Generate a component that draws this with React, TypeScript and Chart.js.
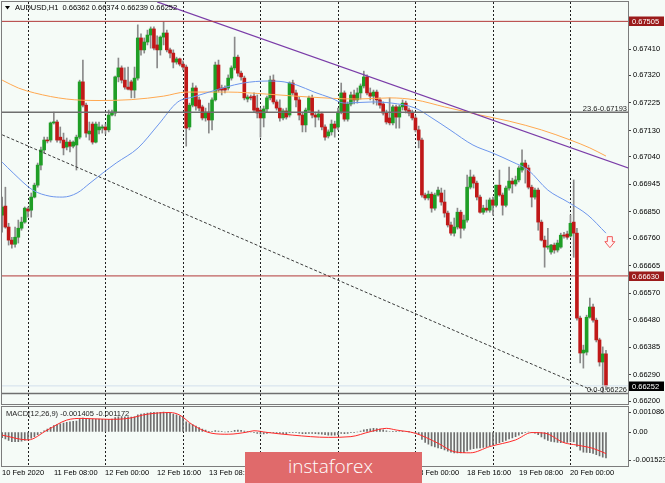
import React, { useEffect, useRef } from "react";
import { Chart, registerables } from "chart.js";

Chart.register(...registerables);

const SYMBOL = "AUDUSD";
const TIMEFRAME = "H1";

const OPEN = [0.66839,0.66870,0.66798,0.66753,0.66739,0.66763,0.66794,0.66815,0.66860,0.66856,
0.66901,0.66942,0.67011,0.67063,0.67097,0.67097,0.67156,0.67159,0.67107,0.67097,
0.67073,0.67090,0.67076,0.67080,0.67107,0.67297,0.67217,0.67118,0.67152,0.67090,
0.67132,0.67138,0.67142,0.67132,0.67183,0.67190,0.67314,0.67345,0.67303,0.67279,
0.67297,0.67269,0.67310,0.67448,0.67407,0.67434,0.67458,0.67479,0.67424,0.67407,
0.67451,0.67465,0.67407,0.67396,0.67365,0.67376,0.67358,0.67348,0.67142,0.67217,
0.67276,0.67235,0.67211,0.67173,0.67193,0.67166,0.67235,0.67355,0.67276,0.67276,
0.67276,0.67310,0.67345,0.67382,0.67327,0.67310,0.67238,0.67245,0.67248,0.67207,
0.67200,0.67173,0.67204,0.67242,0.67303,0.67228,0.67207,0.67173,0.67197,0.67183,
0.67293,0.67259,0.67235,0.67183,0.67149,0.67200,0.67242,0.67183,0.67176,0.67187,
0.67142,0.67111,0.67125,0.67152,0.67142,0.67193,0.67259,0.67169,0.67221,0.67252,
0.67235,0.67259,0.67283,0.67314,0.67259,0.67248,0.67262,0.67235,0.67221,0.67190,
0.67173,0.67156,0.67211,0.67176,0.67211,0.67224,0.67200,0.67190,0.67173,0.67132,
0.67097,0.66908,0.66898,0.66911,0.66863,0.66908,0.66915,0.66884,0.66846,0.66805,
0.66777,0.66798,0.66849,0.66794,0.66822,0.66935,0.66970,0.66949,0.66901,0.66849,
0.66863,0.66856,0.66891,0.66873,0.66942,0.66908,0.66873,0.66932,0.66956,0.66946,
0.66960,0.66994,0.67018,0.67001,0.66935,0.66901,0.66925,0.66815,0.66753,0.66729,
0.66712,0.66736,0.66719,0.66729,0.66770,0.66774,0.66767,0.66815,0.66777,0.66485,
0.66365,0.66368,0.66488,0.66523,0.66478,0.66410,0.66334,0.66362];

const HIGH = [0.66901,0.66935,0.66811,0.66763,0.66798,0.66822,0.66832,0.66867,0.66867,0.66915,
0.66949,0.67018,0.67073,0.67107,0.67107,0.67159,0.67193,0.67166,0.67142,0.67121,
0.67104,0.67097,0.67094,0.67114,0.67303,0.67372,0.67224,0.67159,0.67159,0.67159,
0.67159,0.67149,0.67152,0.67200,0.67200,0.67317,0.67379,0.67352,0.67345,0.67348,
0.67303,0.67348,0.67493,0.67462,0.67448,0.67475,0.67486,0.67486,0.67455,0.67455,
0.67503,0.67475,0.67413,0.67407,0.67382,0.67379,0.67369,0.67355,0.67224,0.67293,
0.67283,0.67245,0.67217,0.67207,0.67224,0.67242,0.67365,0.67372,0.67286,0.67283,
0.67321,0.67352,0.67451,0.67389,0.67334,0.67317,0.67252,0.67252,0.67259,0.67252,
0.67207,0.67214,0.67248,0.67317,0.67321,0.67235,0.67235,0.67204,0.67207,0.67297,
0.67303,0.67269,0.67245,0.67193,0.67207,0.67248,0.67252,0.67193,0.67200,0.67193,
0.67149,0.67132,0.67166,0.67162,0.67207,0.67293,0.67266,0.67228,0.67262,0.67269,
0.67276,0.67290,0.67334,0.67321,0.67276,0.67269,0.67269,0.67242,0.67228,0.67200,
0.67242,0.67217,0.67217,0.67217,0.67235,0.67231,0.67207,0.67200,0.67180,0.67145,
0.67104,0.66915,0.66922,0.66918,0.66915,0.66935,0.66932,0.66925,0.66853,0.66815,
0.66829,0.66863,0.66856,0.66839,0.66977,0.66994,0.66977,0.66956,0.66908,0.66873,
0.66891,0.66898,0.66901,0.66942,0.66994,0.66915,0.66939,0.67004,0.66966,0.66973,
0.67008,0.67063,0.67028,0.67011,0.66942,0.66932,0.66932,0.66822,0.66767,0.66794,
0.66739,0.66743,0.66753,0.66777,0.66780,0.66784,0.66839,0.66960,0.66794,0.66492,
0.66392,0.66495,0.66554,0.66533,0.66485,0.66416,0.66386,0.66374];

const LOW = [0.66780,0.66794,0.66736,0.66725,0.66729,0.66743,0.66787,0.66811,0.66832,0.66832,
0.66898,0.66935,0.66994,0.67052,0.67087,0.67090,0.67152,0.67090,0.67087,0.67046,
0.67063,0.67056,0.67070,0.66994,0.67101,0.67211,0.67107,0.67097,0.67083,0.67087,
0.67118,0.67121,0.67118,0.67125,0.67180,0.67180,0.67297,0.67293,0.67272,0.67269,
0.67242,0.67242,0.67303,0.67389,0.67396,0.67424,0.67413,0.67407,0.67345,0.67389,
0.67424,0.67400,0.67379,0.67345,0.67358,0.67352,0.67338,0.67076,0.67132,0.67211,
0.67200,0.67197,0.67166,0.67162,0.67121,0.67132,0.67231,0.67262,0.67252,0.67259,
0.67269,0.67303,0.67338,0.67317,0.67303,0.67235,0.67228,0.67235,0.67193,0.67173,
0.67107,0.67142,0.67193,0.67235,0.67221,0.67200,0.67162,0.67166,0.67169,0.67176,
0.67252,0.67211,0.67166,0.67125,0.67125,0.67193,0.67173,0.67142,0.67166,0.67132,
0.67097,0.67104,0.67114,0.67107,0.67132,0.67187,0.67162,0.67162,0.67214,0.67221,
0.67224,0.67238,0.67276,0.67252,0.67235,0.67221,0.67217,0.67207,0.67183,0.67152,
0.67149,0.67149,0.67138,0.67138,0.67200,0.67190,0.67180,0.67166,0.67125,0.67070,
0.66901,0.66891,0.66891,0.66849,0.66856,0.66904,0.66873,0.66832,0.66798,0.66770,
0.66767,0.66791,0.66760,0.66787,0.66815,0.66929,0.66932,0.66891,0.66846,0.66842,
0.66849,0.66849,0.66839,0.66867,0.66904,0.66839,0.66867,0.66925,0.66915,0.66939,
0.66953,0.66987,0.66949,0.66929,0.66867,0.66894,0.66787,0.66750,0.66660,0.66722,
0.66705,0.66708,0.66712,0.66725,0.66760,0.66756,0.66763,0.66694,0.66478,0.66331,
0.66313,0.66358,0.66485,0.66471,0.66403,0.66320,0.66226,0.66239];

const CLOSE = [0.66867,0.66798,0.66753,0.66739,0.66763,0.66794,0.66815,0.66863,0.66853,0.66901,
0.66942,0.67011,0.67063,0.67097,0.67094,0.67156,0.67159,0.67097,0.67097,0.67070,
0.67090,0.67076,0.67090,0.67107,0.67297,0.67217,0.67121,0.67128,0.67090,0.67152,
0.67142,0.67142,0.67132,0.67183,0.67193,0.67314,0.67345,0.67303,0.67279,0.67272,
0.67269,0.67310,0.67448,0.67407,0.67434,0.67458,0.67479,0.67413,0.67407,0.67451,
0.67465,0.67407,0.67396,0.67365,0.67376,0.67358,0.67348,0.67138,0.67217,0.67276,
0.67214,0.67207,0.67173,0.67193,0.67166,0.67235,0.67355,0.67269,0.67269,0.67269,
0.67310,0.67345,0.67382,0.67327,0.67314,0.67242,0.67245,0.67242,0.67200,0.67190,
0.67173,0.67204,0.67242,0.67303,0.67228,0.67207,0.67173,0.67197,0.67176,0.67293,
0.67259,0.67235,0.67183,0.67149,0.67200,0.67242,0.67183,0.67176,0.67187,0.67142,
0.67107,0.67125,0.67152,0.67138,0.67193,0.67259,0.67169,0.67221,0.67252,0.67235,
0.67259,0.67283,0.67314,0.67259,0.67248,0.67262,0.67235,0.67217,0.67190,0.67159,
0.67156,0.67211,0.67176,0.67211,0.67224,0.67200,0.67190,0.67173,0.67132,0.67097,
0.66908,0.66898,0.66911,0.66863,0.66908,0.66925,0.66884,0.66846,0.66805,0.66777,
0.66798,0.66849,0.66794,0.66822,0.66935,0.66970,0.66949,0.66901,0.66849,0.66863,
0.66856,0.66891,0.66873,0.66942,0.66908,0.66873,0.66932,0.66956,0.66946,0.66960,
0.67001,0.67018,0.67001,0.66935,0.66901,0.66925,0.66815,0.66753,0.66729,0.66732,
0.66736,0.66719,0.66743,0.66770,0.66767,0.66763,0.66811,0.66777,0.66485,0.66365,
0.66375,0.66488,0.66523,0.66478,0.66410,0.66334,0.66362,0.66252];

// moving averages: [bar, price]
const MA_SLOW = [[0,0.67303],[5,0.67276],[10,0.67259],[20,0.67238],[30,0.67233],[40,0.67236],[50,0.67248],[57,0.67262],[70,0.67262],[82,0.67255],[95,0.67245],[110,0.67238],[120,0.67242],[128,0.67235],[137,0.67211],[148,0.67183],[157,0.67162],[167,0.67132],[176,0.67097],[182,0.67070],[187,0.67042]];
const MA_FAST = [[0,0.67021],[3.4,0.66984],[9.5,0.66925],[14.8,0.66904],[18.8,0.66901],[23.2,0.66915],[27.2,0.66949],[31.2,0.66984],[35.3,0.67018],[42.1,0.67070],[48.3,0.67149],[54.4,0.67228],[59.1,0.67245],[64.1,0.67262],[69.3,0.67279],[74.6,0.67293],[82.3,0.67300],[87.3,0.67297],[91.3,0.67286],[96.6,0.67262],[101.8,0.67242],[105.9,0.67224],[114.5,0.67228],[120.7,0.67224],[127.9,0.67207],[133.1,0.67173],[138.7,0.67132],[145.8,0.67080],[152,0.67052],[158.2,0.67021],[162.9,0.66994],[169,0.66925],[175.2,0.66884],[181.4,0.66839],[187,0.66777]];

const TREND_DOWN = [[48,0.67572],[194,0.67001]];
const TREND_CHANNEL = [[0,0.67115],[184,0.66231]];
const RED_LEVELS = [0.67505, 0.66630];
const FIB_LEVELS = [0.67193, 0.66226];
const FIB_NAMES = ["23.6", "0.0"];
const BID = 0.66252;
const ARROW_AT = [188.2, 0.66746];

const PRICE_TICKS = [0.67410,0.67320,0.67225,0.67130,0.67040,0.66945,0.66850,0.66760,0.66665,0.66570,0.66480,0.66385,0.66290,0.66200];
const PRICE_MIN = 0.661897;
const PRICE_MAX = 0.675716;
const BAR_MIN = -0.05;
const BAR_MAX = 193.82;

const DAY_STARTS = [8, 32, 56, 80, 104, 128, 152, 176];
const TIME_LABEL_BARS = [0, 16, 32, 48, 64, 80, 96, 112, 128, 144, 160, 176];
const TIME_LABELS = ["10 Feb 2020","11 Feb 08:00","12 Feb 00:00","12 Feb 16:00","13 Feb 08:00","14 Feb 00:00","14 Feb 16:00","17 Feb 08:00","18 Feb 00:00","18 Feb 16:00","19 Feb 08:00","20 Feb 00:00"];

const MACD_HIST = [-0.0003,-0.00038,-0.00046,-0.00052,-0.00053,-0.00052,-0.0005,-0.00045,-0.0004,-0.00033,
-0.00025,-0.00015,-0.00005,0.00006,0.00016,0.00026,0.00035,0.0004,0.00045,0.00049,
0.00053,0.00056,0.00058,0.0006,0.00072,0.00076,0.00074,0.00072,0.0007,0.00071,
0.0007,0.00069,0.00068,0.00069,0.0007,0.00078,0.00083,0.00084,0.00083,0.00082,
0.00081,0.00083,0.00093,0.00097,0.001,0.00103,0.00106,0.00107,0.00106,0.00107,
0.001086,0.00106,0.00103,0.00098,0.00093,0.00088,0.00082,0.00056,0.00046,0.0004,
0.00032,0.00024,0.00016,0.0001,0.00004,0.00002,0.00008,0.00005,0.00002,0,
0.00001,0.00004,0.00009,0.0001,0.00009,0.00005,0.00002,0,-0.00004,-0.00007,
-0.0001,-0.0001,-0.00008,-0.00003,-0.00004,-0.00006,-0.00008,-0.00009,-0.0001,-0.00004,
-0.00003,-0.00004,-0.00006,-0.00009,-0.00009,-0.00007,-0.00008,-0.00009,-0.0001,-0.00012,
-0.00015,-0.00017,-0.00017,-0.00017,-0.00014,-0.00008,-0.00009,-0.00007,-0.00004,-0.00003,
0,0.00005,0.00012,0.00015,0.00018,0.0002,0.00019,0.00016,0.00012,0.00007,
0.00003,0.00004,0.00002,0.00003,0.00004,0.00003,0.00001,-0.00002,-0.00006,-0.00013,
-0.0004,-0.00056,-0.00066,-0.00076,-0.00081,-0.00086,-0.00091,-0.00097,-0.00104,-0.0011,
-0.00113,-0.00113,-0.00114,-0.00112,-0.00103,-0.00095,-0.0009,-0.00088,-0.00087,-0.00084,
-0.0008,-0.00076,-0.0007,-0.00064,-0.00058,-0.00053,-0.00045,-0.00038,-0.00032,-0.00025,
-0.00017,-0.00009,-0.00003,0,-0.00002,-0.00006,-0.00015,-0.00026,-0.00037,-0.00045,
-0.00051,-0.00054,-0.00057,-0.00058,-0.00057,-0.00056,-0.00053,-0.00054,-0.00078,-0.00098,
-0.00109,-0.00111,-0.00112,-0.00116,-0.00123,-0.0013,-0.00136,-0.001405];

const MACD_SIGNAL = [[0,-0.00017],[8,-0.00043],[14,0.00011],[20,0.00065],[25,0.00074],[33,0.00069],[39,0.00074],[45,0.00097],[52,0.00106],[55,0.00092],[59,0.00039],[65,-0.00007],[70,-0.00012],[76,0],[78,0.00007],[82,-0.00002],[90,-0.00017],[101,-0.00029],[108,-0.00025],[114,0.00002],[119,0.0002],[122,0.00011],[128,-0.00007],[135,-0.00061],[140,-0.00107],[145,-0.00113],[151,-0.00079],[159,-0.00043],[164,-0.00003],[168,-0.00006],[174,-0.00058],[178,-0.00071],[183,-0.00089],[187,-0.001172]];
const MACD_TICKS = [0.001086, 0, -0.001523];
const MACD_MIN = -0.00183;
const MACD_MAX = 0.00136;

const FAMILY = '"Liberation Sans", Arial, sans-serif';
const FONT = "7.5px " + FAMILY;
const BG = "#F5FBF7";
const W = 665;
const MAIN_H = 406;
const MACD_TOP = 405;
const MACD_H = 78;
const AXIS_W = 37;

function drawSeparators(chart: any) {
  const { ctx, chartArea: a, scales } = chart;
  ctx.save();
  ctx.beginPath();
  ctx.rect(a.left, a.top, a.right - a.left, a.bottom - a.top);
  ctx.clip();
  ctx.strokeStyle = "#1e1e1e";
  ctx.lineWidth = 1;
  ctx.setLineDash([2, 2]);
  DAY_STARTS.forEach((b) => {
    const px = Math.round(scales.x.getPixelForValue(b)) + 0.5;
    ctx.beginPath();
    ctx.moveTo(px, a.top);
    ctx.lineTo(px, a.bottom);
    ctx.stroke();
  });
  ctx.restore();
}

function drawFrame(chart: any) {
  const { ctx, chartArea: a } = chart;
  ctx.save();
  ctx.strokeStyle = "#7c7c7c";
  ctx.lineWidth = 1;
  ctx.strokeRect(Math.round(a.left) - 0.5, Math.round(a.top) - 0.5, Math.round(a.right - a.left) + 1, Math.round(a.bottom - a.top) + 1);
  ctx.restore();
}

const baseOptions = () => ({
  responsive: false,
  animation: false as const,
  devicePixelRatio: 1,
  events: [],
  plugins: { legend: { display: false }, tooltip: { enabled: false } },
});

const fitAxis = (s: any) => {
  s.width = AXIS_W;
  s.paddingTop = 0;
  s.paddingBottom = 0;
};

function MainChart() {
  const ref = useRef<HTMLCanvasElement>(null);
  useEffect(() => {
    if (!ref.current) return;
    const idx = OPEN.map((_, i) => i);
    const bull = idx.map((i) => CLOSE[i] >= OPEN[i]);
    const hline = (v: number) => [{ x: BAR_MIN, y: v }, { x: BAR_MAX, y: v }];
    const pts = (arr: number[][]) => arr.map((p) => ({ x: p[0], y: p[1] }));

    const overlay = {
      id: "overlayMain",
      beforeDatasetsDraw(chart: any) {
        drawSeparators(chart);
      },
      afterDraw(chart: any) {
        const { ctx, chartArea: a, scales } = chart;
        const y = scales.y;
        const x = scales.x;
        drawFrame(chart);
        ctx.save();
        ctx.font = FONT;
        ctx.fillStyle = "#000";
        ctx.beginPath();
        ctx.moveTo(5, 6);
        ctx.lineTo(10, 6);
        ctx.lineTo(7.5, 9.5);
        ctx.closePath();
        ctx.fill();
        const last = OPEN.length - 1;
        const header = SYMBOL + "," + TIMEFRAME + "  " + [OPEN[last], HIGH[last], LOW[last], CLOSE[last]].map((v) => v.toFixed(5)).join(" ");
        ctx.textBaseline = "middle";
        ctx.textAlign = "left";
        ctx.fillText(header, 15, 8);
        ctx.textAlign = "right";
        ctx.textBaseline = "alphabetic";
        ctx.fillStyle = "#222";
        FIB_LEVELS.forEach((v, k) => {
          const py = y.getPixelForValue(v);
          ctx.fillText(FIB_NAMES[k] + "-" + v.toFixed(5), a.right - 1, py - 1.5);
        });
        ctx.textAlign = "left";
        ctx.textBaseline = "middle";
        const box = (v: number, bg: string) => {
          const py = Math.round(y.getPixelForValue(v));
          ctx.fillStyle = bg;
          ctx.fillRect(a.right + 1, py - 4.5, 35, 9.5);
          ctx.fillStyle = "#fff";
          ctx.fillText(v.toFixed(5), a.right + 4, py + 0.5);
        };
        RED_LEVELS.forEach((v) => box(v, "#9b1b1b"));
        box(BID, "#000");
        const ax = x.getPixelForValue(ARROW_AT[0]);
        const ay = y.getPixelForValue(ARROW_AT[1]);
        ctx.beginPath();
        ctx.moveTo(ax - 2.5, ay - 5.5);
        ctx.lineTo(ax + 2.5, ay - 5.5);
        ctx.lineTo(ax + 2.5, ay - 0.5);
        ctx.lineTo(ax + 5, ay - 0.5);
        ctx.lineTo(ax, ay + 5.5);
        ctx.lineTo(ax - 5, ay - 0.5);
        ctx.lineTo(ax - 2.5, ay - 0.5);
        ctx.closePath();
        ctx.fillStyle = "#fff4f4";
        ctx.fill();
        ctx.strokeStyle = "#f05a5a";
        ctx.lineWidth = 1;
        ctx.stroke();
        ctx.restore();
      },
    };

    const chart = new Chart(ref.current, {
      type: "bar",
      data: {
        datasets: [
          {
            type: "bar",
            data: idx.map((i) => ({ x: i, y: [LOW[i], HIGH[i]] })),
            backgroundColor: "#8a8a8a",
            barThickness: 1,
            grouped: false,
            order: 20,
          },
          {
            type: "bar",
            data: idx.map((i) => ({ x: i, y: [Math.min(OPEN[i], CLOSE[i]), Math.max(OPEN[i], CLOSE[i])] })),
            backgroundColor: idx.map((i) => (bull[i] ? "#1f9e26" : "#c01818")),
            borderColor: "#303030",
            borderWidth: 0,
            barThickness: 3,
            minBarLength: 1,
            grouped: false,
            order: 19,
          },
          { type: "line", data: pts(MA_SLOW), borderColor: "#ffa850", borderWidth: 1, pointRadius: 0, cubicInterpolationMode: "monotone", order: 6 },
          { type: "line", data: pts(MA_FAST), borderColor: "#6c95ec", borderWidth: 1, pointRadius: 0, cubicInterpolationMode: "monotone", order: 5 },
          { type: "line", data: pts(TREND_DOWN), borderColor: "#7a3ca8", borderWidth: 1.2, pointRadius: 0, order: 4 },
          { type: "line", data: pts(TREND_CHANNEL), borderColor: "#3a3a3a", borderWidth: 1, borderDash: [3, 2], pointRadius: 0, order: 4 },
          ...RED_LEVELS.map((v) => ({ type: "line", data: hline(v), borderColor: "#b23838", borderWidth: 1, pointRadius: 0, order: 3 })),
          ...FIB_LEVELS.map((v) => ({ type: "line", data: hline(v), borderColor: "#6f6f6f", borderWidth: 1.5, pointRadius: 0, order: 3 })),
          { type: "line", data: hline(BID), borderColor: "#d2dfec", borderWidth: 1, pointRadius: 0, order: 7 },
        ] as any,
      },
      options: {
        ...baseOptions(),
        layout: { padding: { left: 2, right: 0, top: 2, bottom: 2 } },
        scales: {
          x: { type: "linear", display: false, min: BAR_MIN, max: BAR_MAX, offset: false },
          y: {
            type: "linear",
            position: "right",
            min: PRICE_MIN,
            max: PRICE_MAX,
            afterBuildTicks: (s: any) => {
              s.ticks = PRICE_TICKS.map((v) => ({ value: v }));
            },
            afterFit: fitAxis,
            ticks: {
              autoSkip: false,
              padding: 2,
              color: "#000",
              font: { family: FAMILY, size: 7.5 },
              callback: (v: any) => Number(v).toFixed(5),
            },
            grid: { drawOnChartArea: false, drawTicks: true, tickLength: 3, color: "#444" },
            border: { display: true, color: "#555" },
          },
        },
      } as any,
      plugins: [overlay],
    });
    return () => chart.destroy();
  }, []);
  return <canvas ref={ref} width={W} height={MAIN_H} style={{ position: "absolute", left: 0, top: 0, width: W, height: MAIN_H }} />;
}

function MacdChart() {
  const ref = useRef<HTMLCanvasElement>(null);
  useEffect(() => {
    if (!ref.current) return;
    const overlay = {
      id: "overlayMacd",
      beforeDatasetsDraw(chart: any) {
        drawSeparators(chart);
      },
      afterDraw(chart: any) {
        const { ctx, scales } = chart;
        drawFrame(chart);
        ctx.save();
        ctx.font = FONT;
        ctx.fillStyle = "#222";
        ctx.textAlign = "left";
        ctx.textBaseline = "middle";
        const last = MACD_HIST.length - 1;
        const sig = MACD_SIGNAL[MACD_SIGNAL.length - 1][1];
        ctx.fillText("MACD(12,26,9) " + MACD_HIST[last].toFixed(6) + " " + sig.toFixed(6), 6, 8.5);
        ctx.fillStyle = "#000";
        TIME_LABEL_BARS.forEach((b, k) => {
          ctx.fillText(TIME_LABELS[k], Math.round(scales.x.getPixelForValue(b)), 67.5);
        });
        ctx.restore();
      },
    };
    const chart = new Chart(ref.current, {
      type: "bar",
      data: {
        datasets: [
          {
            type: "bar",
            data: MACD_HIST.map((v, i) => ({ x: i, y: v })),
            backgroundColor: "#6e6e6e",
            barThickness: 1,
            grouped: false,
            order: 10,
          },
          {
            type: "line",
            data: MACD_SIGNAL.map((p) => ({ x: p[0], y: p[1] })),
            borderColor: "#ff2a2a",
            borderWidth: 1,
            pointRadius: 0,
            cubicInterpolationMode: "monotone",
            order: 1,
          },
        ] as any,
      },
      options: {
        ...baseOptions(),
        layout: { padding: { left: 2, right: 0, top: 2, bottom: 17.3 } },
        scales: {
          x: { type: "linear", display: false, min: BAR_MIN, max: BAR_MAX, offset: false },
          y: {
            type: "linear",
            position: "right",
            min: MACD_MIN,
            max: MACD_MAX,
            afterBuildTicks: (s: any) => {
              s.ticks = MACD_TICKS.map((v) => ({ value: v }));
            },
            afterFit: fitAxis,
            ticks: {
              autoSkip: false,
              padding: 2,
              color: "#000",
              font: { family: FAMILY, size: 7.5 },
              callback: (v: any) => (Number(v) === 0 ? "0.00" : Number(v).toFixed(6)),
            },
            grid: { drawOnChartArea: false, drawTicks: true, tickLength: 3, color: "#444" },
            border: { display: true, color: "#555" },
          },
        },
      } as any,
      plugins: [overlay],
    });
    return () => chart.destroy();
  }, []);
  return <canvas ref={ref} width={W} height={MACD_H} style={{ position: "absolute", left: 0, top: MACD_TOP, width: W, height: MACD_H }} />;
}

export default function App() {
  return (
    <div style={{ position: "fixed", left: 0, top: 0, width: W, height: 483, background: BG, overflow: "hidden" }}>
      <MainChart />
      <MacdChart />
      <div style={{ position: "absolute", left: 245, top: 452, width: 177, height: 31, background: "#e06a6b", overflow: "hidden" }}>
        <span style={{ position: "absolute", left: 43, top: 0, lineHeight: "29px", fontFamily: '"Open Sans", sans-serif', fontSize: 19, fontWeight: 300, color: "#fff", whiteSpace: "nowrap" }}>instaforex</span>
      </div>
    </div>
  );
}
